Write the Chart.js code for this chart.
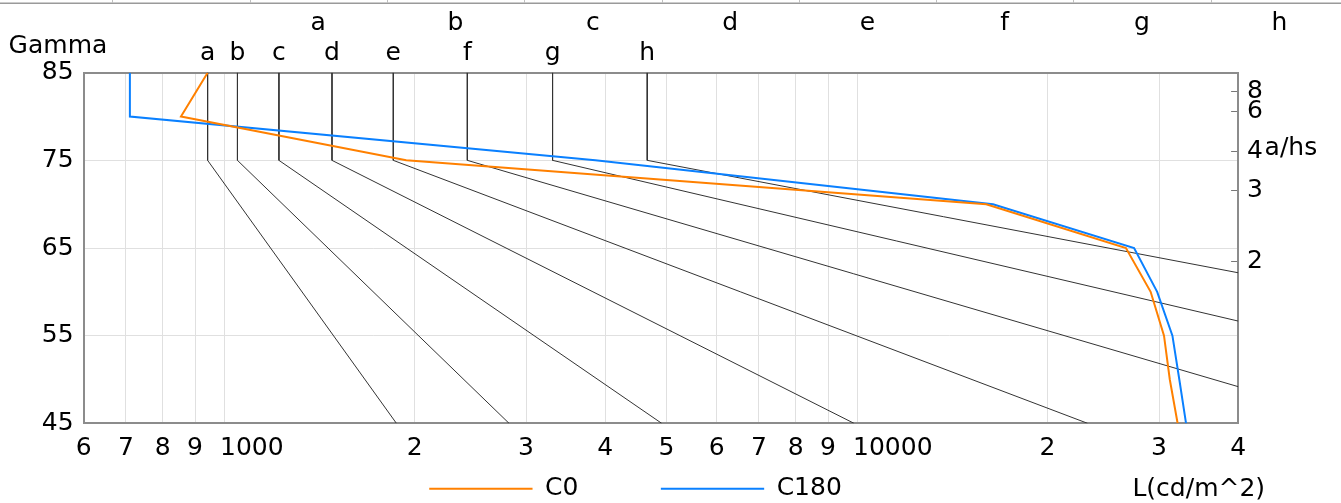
<!DOCTYPE html>
<html>
<head>
<meta charset="utf-8">
<script src="https://cdn.jsdelivr.net/npm/chart.js@4.4.0/dist/chart.umd.min.js"></script>
<style>
  html, body { margin: 0; padding: 0; background: #fff; }
</style>
</head>
<body>
<canvas id="myChart" width="1341" height="503"></canvas>
<script>
// 配光データ（Gamma と輝度）
const gammaC = [85, 80, 75, 70, 65, 60, 55, 50, 45];
const lumC0 = [942, 855, 1940, 16000, 26600, 29100, 30550, 31200, 32100];
const lumC180 = [710, 710, 3860, 16400, 27400, 29800, 31500, 32300, 33100];

// 輝度限界曲線 a〜h（85°〜75° は一定、45° までは直線）
const limitNames = ['a', 'b', 'c', 'd', 'e', 'f', 'g', 'h'];
const limitGamma = [85, 75, 45];
const limitL75 = [942, 1050, 1221, 1481, 1851, 2423, 3304, 4662];
const limitL45 = [1872, 2820, 4913, 9890, 23130, 63000, 195500, 712000];

// 目盛り
const xTickValues = [600, 700, 800, 900, 1000, 2000, 3000, 4000, 5000, 6000, 7000, 8000, 9000, 10000, 20000, 30000, 40000];
const xTickLabels = ['6', '7', '8', '9', '1000', '2', '3', '4', '5', '6', '7', '8', '9', '10000', '2', '3', '4'];
const ahsTicks = [8, 6, 4, 3, 2];
const topRowLabels = ['a', 'b', 'c', 'd', 'e', 'f', 'g', 'h'];

const FONT = "'DejaVu Sans', sans-serif";
Chart.defaults.font.family = FONT;
Chart.defaults.font.size = 25;
Chart.defaults.color = '#000';

const toDeg = v => Math.atan(v) * 180 / Math.PI;
const borderStyle = { color: '#8c8c8c', width: 2 };

// データセットを作る
const datasets = [
  {
    label: 'C0',
    data: gammaC.map((g, i) => ({ x: lumC0[i], y: g })),
    borderColor: '#ff8000',
    backgroundColor: '#ff8000',
    borderWidth: 2
  },
  {
    label: 'C180',
    data: gammaC.map((g, i) => ({ x: lumC180[i], y: g })),
    borderColor: '#0a80ff',
    backgroundColor: '#0a80ff',
    borderWidth: 2
  }
];
limitNames.forEach((name, i) => {
  const xs = [limitL75[i], limitL75[i], limitL45[i]];
  datasets.push({
    label: name,
    data: limitGamma.map((g, k) => ({ x: xs[k], y: g })),
    borderColor: '#333',
    borderWidth: 1
  });
});

// 凡例の間隔（テキスト後ろの空白）
const legendTail = ['          ', '     '];

// 追加の文字（Gamma, a/hs, L(cd/m^2), 上段ラベル）
const extraText = {
  id: 'extraText',
  afterDraw(chart) {
    const { ctx, chartArea, scales } = chart;
    ctx.save();
    ctx.font = '25px ' + FONT;
    ctx.fillStyle = '#000';

    // 上段の帯
    ctx.strokeStyle = '#9a9a9a';
    ctx.lineWidth = 1.5;
    ctx.beginPath();
    ctx.moveTo(0, 3.3);
    ctx.lineTo(chart.width, 3.3);
    ctx.stroke();
    ctx.strokeStyle = '#c0c0c0';
    ctx.lineWidth = 1;
    for (let k = 0; k <= topRowLabels.length; k++) {
      const x = Math.round(112.3 + 137.3 * k) + 0.5;
      ctx.beginPath();
      ctx.moveTo(x, 0);
      ctx.lineTo(x, 3);
      ctx.stroke();
    }
    ctx.textAlign = 'center';
    ctx.textBaseline = 'alphabetic';
    topRowLabels.forEach((t, k) => ctx.fillText(t, 112.3 + 137.3 * (k + 1.5), 29.5));

    ctx.textAlign = 'left';
    ctx.fillText('Gamma', chartArea.left - 75, chartArea.top - 20);
    ctx.fillText('a/hs', chartArea.right + 26.5, scales.yRight.getPixelForValue(toDeg(4)) + 3);

    const box = chart.legend.legendHitBoxes[0];
    ctx.textAlign = 'right';
    ctx.textBaseline = 'middle';
    ctx.fillText('L(cd/m^2)', chartArea.right + 27, box.top + box.height / 2 + 1);
    ctx.restore();
  }
};

const ctx = document.getElementById('myChart').getContext('2d');
const chart = new Chart(ctx, {
  type: 'line',
  data: { datasets: datasets },
  plugins: [extraText],
  options: {
    responsive: false,
    animation: false,
    devicePixelRatio: 1,
    events: [],
    layout: { padding: { left: 31.8, right: 62, top: 34.7, bottom: -8.3 } },
    elements: {
      point: { radius: 0, hoverRadius: 0 },
      line: { tension: 0 }
    },
    plugins: {
      tooltip: { enabled: false },
      legend: {
        position: 'bottom',
        labels: {
          usePointStyle: true,
          pointStyle: 'line',
          pointStyleWidth: 103.3,
          padding: 3,
          font: { size: 25 },
          color: '#000',
          generateLabels: (c) => Chart.defaults.plugins.legend.labels.generateLabels(c).map(item => {
            if (item.datasetIndex < 2) item.text = item.text + legendTail[item.datasetIndex];
            return item;
          }),
          filter: (item) => item.datasetIndex < 2
        }
      }
    },
    scales: {
      x: {
        type: 'logarithmic',
        position: 'bottom',
        min: 600,
        max: 40000,
        afterBuildTicks: (s) => { s.ticks = xTickValues.map(v => ({ value: v })); },
        ticks: {
          autoSkip: false,
          maxRotation: 0,
          minRotation: 0,
          padding: 10,
          callback: (v, i) => {
            const t = xTickLabels[i];
            // 桁の区切りラベルは左寄せ気味に
            return t.length > 1 ? ' '.repeat(2 * t.length - 1) + t : t;
          }
        },
        grid: { color: '#e0e0e0', drawTicks: false },
        border: borderStyle
      },
      xTop: {
        type: 'logarithmic',
        position: 'top',
        min: 600,
        max: 40000,
        afterBuildTicks: (s) => { s.ticks = limitL75.map(v => ({ value: v })); },
        ticks: {
          autoSkip: false,
          maxRotation: 0,
          minRotation: 0,
          padding: 4,
          callback: (v, i) => limitNames[i]
        },
        grid: { display: false, drawTicks: false },
        border: borderStyle
      },
      y: {
        type: 'linear',
        position: 'left',
        min: 45,
        max: 85,
        ticks: { stepSize: 10, padding: 10, autoSkip: false },
        grid: { color: '#e0e0e0', drawTicks: false },
        border: borderStyle
      },
      yRight: {
        type: 'linear',
        position: 'right',
        min: 45,
        max: 85,
        afterBuildTicks: (s) => { s.ticks = ahsTicks.map(v => ({ value: toDeg(v) })); },
        ticks: {
          autoSkip: false,
          padding: 16,
          callback: (v, i) => String(ahsTicks[i])
        },
        grid: { drawOnChartArea: false, drawTicks: true, tickLength: -7, color: '#777' },
        border: borderStyle
      }
    }
  }
});
</script>
</body>
</html>
